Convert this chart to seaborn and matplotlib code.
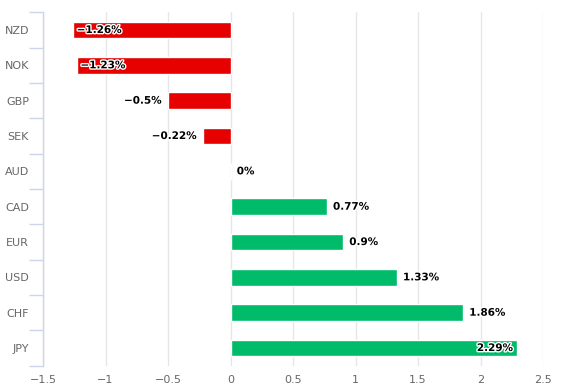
import matplotlib
matplotlib.use("Agg")
import matplotlib.pyplot as plt
import matplotlib.patheffects as pe
import seaborn as sns
import pandas as pd

currencies = ["NZD", "NOK", "GBP", "SEK", "AUD", "CAD", "EUR", "USD", "CHF", "JPY"]
changes = [-1.26, -1.23, -0.5, -0.22, 0.0, 0.77, 0.9, 1.33, 1.86, 2.29]
labels = ["\u22121.26%", "\u22121.23%", "\u22120.5%", "\u22120.22%", "0%",
          "0.77%", "0.9%", "1.33%", "1.86%", "2.29%"]
x_ticks = [-1.5, -1, -0.5, 0, 0.5, 1, 1.5, 2, 2.5]
x_tick_labels = ["\u22121.5", "\u22121", "\u22120.5", "0", "0.5", "1", "1.5", "2", "2.5"]

RED = "#e60000"
GREEN = "#00bb6a"
colors = [RED if v < 0 else GREEN for v in changes]

df = pd.DataFrame({"currency": currencies, "change": changes})

sns.set_style("white")
plt.rcParams["font.family"] = ["DejaVu Sans"]

fig = plt.figure(figsize=(5.66, 3.91), dpi=100)
W, H = 566, 391
left, right, top, bottom = 43, 543, 12.3, 365.7
ax = fig.add_axes([left / W, 1 - bottom / H, (right - left) / W, (bottom - top) / H])

sns.barplot(data=df, x="change", y="currency", hue="currency", palette=colors,
            legend=False, orient="h", width=0.47, ax=ax, saturation=1)

ax.set_xlim(-1.5, 2.5)
ax.set_ylim(9.5, -0.5)
ax.set_xticks(x_ticks)
ax.set_xticklabels(x_tick_labels)
ax.set_xlabel("")
ax.set_ylabel("")

for s in ["top", "right", "bottom"]:
    ax.spines[s].set_visible(False)
ax.spines["left"].set_color("#ccd6eb")
ax.spines["left"].set_linewidth(1)

ax.grid(axis="x", color="#e6e6e6", linewidth=1)
ax.set_axisbelow(True)

ax.tick_params(axis="x", length=0, labelsize=8, labelcolor="#666666", pad=7)
ax.tick_params(axis="y", which="major", left=True, length=0, labelsize=8,
               labelcolor="#666666", pad=10)
ax.set_yticks([i - 0.5 for i in range(len(currencies) + 1)], minor=True)
ax.tick_params(axis="y", which="minor", left=True, length=10, color="#ccd6eb", width=1)

outline = [pe.withStroke(linewidth=2, foreground="white")]
xmin, xmax = ax.get_xlim()
for i, (v, lab) in enumerate(zip(changes, labels)):
    est = 0.04 * len(lab)  # approx label width in data units
    if v < 0:
        if v - 0.05 - est < xmin:
            x, ha = v + 0.03, "left"
        else:
            x, ha = v - 0.05, "right"
    else:
        if v + 0.05 + est > xmax:
            x, ha = v - 0.03, "right"
        else:
            x, ha = v + 0.05, "left"
    ax.text(x, i, lab, ha=ha, va="center", fontsize=7.5, fontweight="bold",
            color="black", path_effects=outline)

fig.savefig("out.png", dpi=100)
